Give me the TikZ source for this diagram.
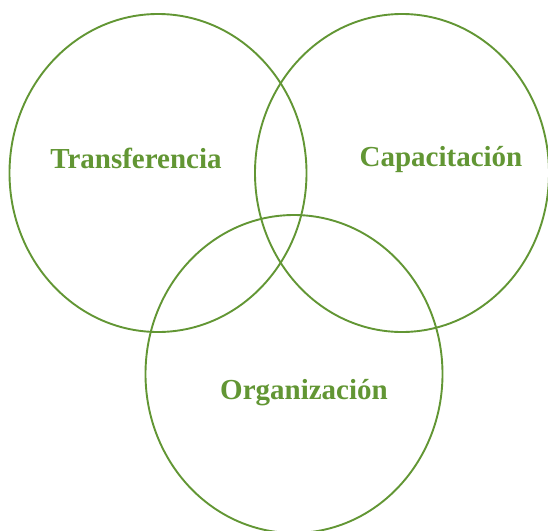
\documentclass[tikz,border=0pt]{standalone}
\usepackage{fontspec}
\setmainfont{Liberation Serif}
\usetikzlibrary{shapes.geometric}
\definecolor{vennGreen}{RGB}{98,150,52}
\tikzset{
  setring/.style={ellipse, draw=vennGreen, line width=1.9pt,
    minimum width=297pt, minimum height=318pt, inner sep=0pt},
  setlabel/.style={text=vennGreen, font=\bfseries\fontsize{29}{33}\selectfont}
}
\begin{document}
\begin{tikzpicture}[x=1pt,y=-1pt]
  \useasboundingbox (0,0) rectangle (548,530);

  %% the three sets
  \node[setring] (ringT) at (158,173) {};
  \node[setring, minimum width=294pt] (ringC) at (402,173) {};
  \node[setring] (ringO) at (294,374) {};

  %% labels
  \node[setlabel] (labT) at (136,158) {Transferencia};
  \node[setlabel] (labC) at (441,160) {Capacitación};
  \node[setlabel] (labO) at (304,393) {Organización};

\end{tikzpicture}
\end{document}
